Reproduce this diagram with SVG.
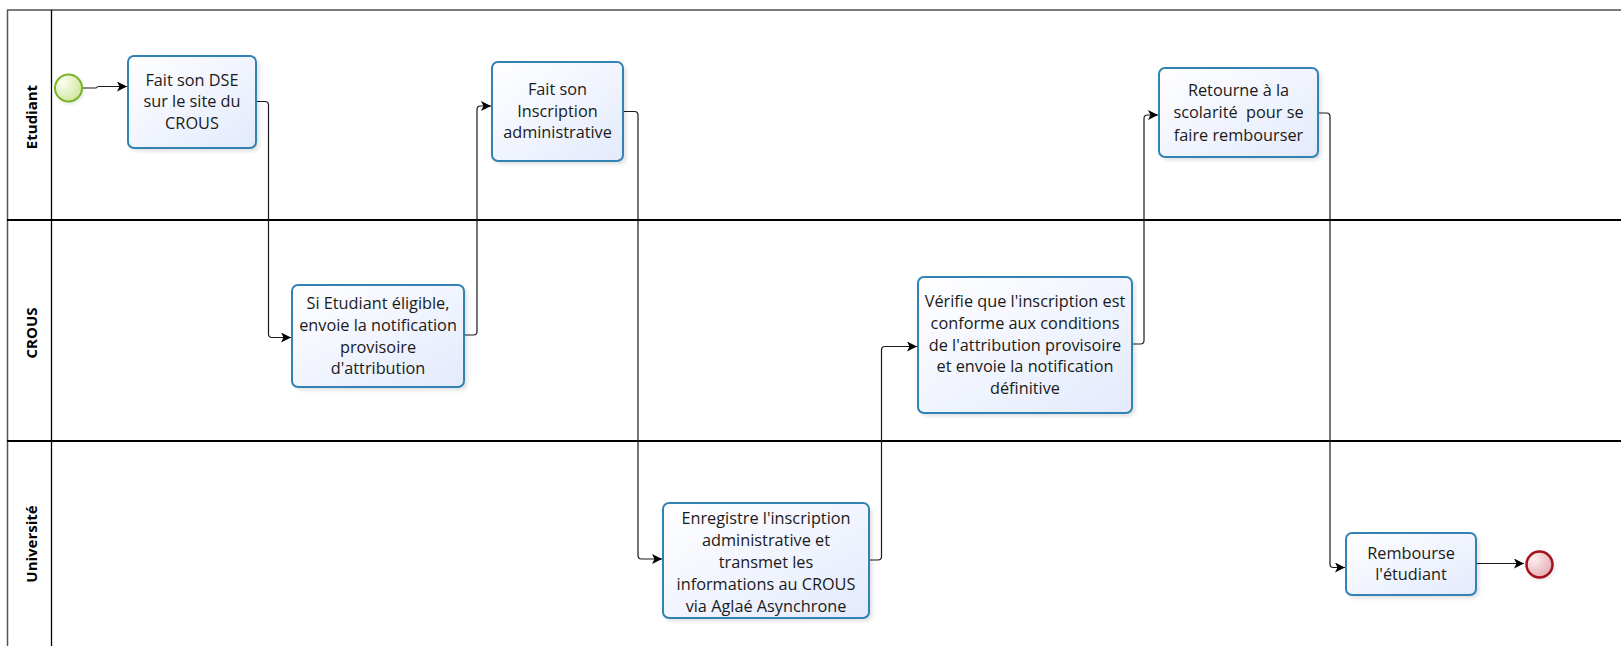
<svg xmlns="http://www.w3.org/2000/svg" width="1621" height="646" viewBox="0 0 1621 646">
<style>
.task rect.b{fill:url(#tg);stroke:#3282b4;stroke-width:2}
.task rect.s{fill:#000;opacity:0.13;filter:url(#blur)}
.task text{font-family:"Open Sans","Noto Sans","Liberation Sans",sans-serif;font-size:16.3px;fill:#1a1a1a;text-anchor:middle;white-space:pre}
.lane text{font-family:"Open Sans","Liberation Sans",sans-serif;font-size:15px;font-weight:bold;fill:#000;text-anchor:middle}
.conn path{fill:none;stroke:#1a1a1a;stroke-width:1.2;stroke-linejoin:round}
</style>
<defs>
<linearGradient id="tg" x1="0" y1="0" x2="1" y2="1">
<stop offset="0" stop-color="#ffffff"/>
<stop offset="1" stop-color="#e3eafc"/>
</linearGradient>
<radialGradient id="sg" cx="0.3" cy="0.3" r="0.8">
<stop offset="0" stop-color="#fbfdf0"/>
<stop offset="1" stop-color="#cfe59a"/>
</radialGradient>
<radialGradient id="eg" cx="0.3" cy="0.3" r="0.8">
<stop offset="0" stop-color="#fcf0f0"/>
<stop offset="1" stop-color="#e6a9b2"/>
</radialGradient>
<filter id="blur" x="-20%" y="-20%" width="140%" height="140%"><feGaussianBlur stdDeviation="2"/></filter>
<marker id="arr" viewBox="0 0 10 10" refX="10" refY="5" markerWidth="10" markerHeight="10" markerUnits="userSpaceOnUse" orient="auto">
<path d="M0,0 L10,5 L0,10 L2.5,5 z" fill="#000"/>
</marker>
</defs>
<rect width="1621" height="646" fill="#fff"/>
<g id="pool">
<line x1="7" y1="10" x2="1621" y2="10" stroke="#7a7a7a" stroke-width="2"/>
<line x1="7.5" y1="10" x2="7.5" y2="646" stroke="#555" stroke-width="1.5"/>
<line x1="51.5" y1="10" x2="51.5" y2="646" stroke="#000" stroke-width="1.3"/>
<line x1="7" y1="220" x2="1621" y2="220" stroke="#000" stroke-width="2"/>
<line x1="7" y1="441" x2="1621" y2="441" stroke="#000" stroke-width="2"/>
</g>
<g id="lane-etudiant" class="lane"><text transform="translate(37,117) rotate(-90)">Etudiant</text></g>
<g id="lane-crous" class="lane"><text transform="translate(37,333) rotate(-90)">CROUS</text></g>
<g id="lane-universite" class="lane"><text transform="translate(37,544) rotate(-90)">Université</text></g>

<g id="connectors" class="conn">
<path d="M83,88 H96 Q97,86.5 99,86.5 H127" marker-end="url(#arr)"/>
<path d="M256,101.5 H265 Q268.5,101.5 268.5,105 V334 Q268.5,337.5 272,337.5 H291" marker-end="url(#arr)"/>
<path d="M464,335 H473.5 Q477,335 477,331.5 V109.5 Q477,106 480.5,106 H491" marker-end="url(#arr)"/>
<path d="M623,111.5 H634.5 Q638,111.5 638,115 V555.5 Q638,559 641.5,559 H662" marker-end="url(#arr)"/>
<path d="M869,560 H878 Q881.5,560 881.5,556.5 V350 Q881.5,346.5 885,346.5 H917" marker-end="url(#arr)"/>
<path d="M1132,344 H1140.5 Q1144,344 1144,340.5 V118.5 Q1144,115 1147.5,115 H1158" marker-end="url(#arr)"/>
<path d="M1319,113 H1326.5 Q1330,113 1330,116.5 V564 Q1330,567.5 1333.5,567.5 H1345" marker-end="url(#arr)"/>
<path d="M1476,563.5 H1524" marker-end="url(#arr)"/>
</g>

<g id="start">
<circle cx="70" cy="90" r="13.5" fill="#000" opacity="0.12" filter="url(#blur)"/>
<circle cx="68.5" cy="88" r="13.5" fill="url(#sg)" stroke="#78b42a" stroke-width="2"/>
</g>

<g id="task1" class="task">
<rect class="s" x="131" y="59" width="128" height="92" rx="6"/>
<rect class="b" x="128" y="56" width="128" height="92" rx="6"/>
<text x="192" y="85.8">Fait son DSE</text>
<text x="192" y="107.3">sur le site du</text>
<text x="192" y="128.8">CROUS</text>
</g>

<g id="task2" class="task">
<rect class="s" x="295" y="288" width="172" height="102" rx="6"/>
<rect class="b" x="292" y="285" width="172" height="102" rx="6"/>
<text x="378" y="308.5">Si Etudiant éligible,</text>
<text x="378" y="330.8">envoie la notification</text>
<text x="378" y="353">provisoire</text>
<text x="378" y="374.3">d'attribution</text>
</g>

<g id="task3" class="task">
<rect class="s" x="495" y="65" width="131" height="99" rx="6"/>
<rect class="b" x="492" y="62" width="131" height="99" rx="6"/>
<text x="557.5" y="95.2">Fait son</text>
<text x="557.5" y="117.4">Inscription</text>
<text x="557.5" y="137.6">administrative</text>
</g>

<g id="task4" class="task">
<rect class="s" x="666" y="506" width="206" height="115" rx="6"/>
<rect class="b" x="663" y="503" width="206" height="115" rx="6"/>
<text x="766" y="524">Enregistre l'inscription</text>
<text x="766" y="545.7">administrative et</text>
<text x="766" y="568">transmet les</text>
<text x="766" y="590">informations au CROUS</text>
<text x="766" y="611.7">via Aglaé Asynchrone</text>
</g>

<g id="task5" class="task">
<rect class="s" x="921" y="280" width="214" height="136" rx="6"/>
<rect class="b" x="918" y="277" width="214" height="136" rx="6"/>
<text x="1025" y="307.4">Vérifie que l'inscription est</text>
<text x="1025" y="329">conforme aux conditions</text>
<text x="1025" y="351.4">de l'attribution provisoire</text>
<text x="1025" y="372.4">et envoie la notification</text>
<text x="1025" y="394">définitive</text>
</g>

<g id="task6" class="task">
<rect class="s" x="1162" y="71" width="159" height="89" rx="6"/>
<rect class="b" x="1159" y="68" width="159" height="89" rx="6"/>
<text x="1238.5" y="95.7">Retourne à la</text>
<text x="1238.5" y="118.4">scolarité  pour se</text>
<text x="1238.5" y="140.7">faire rembourser</text>
</g>

<g id="task7" class="task">
<rect class="s" x="1349" y="536" width="130" height="62" rx="6"/>
<rect class="b" x="1346" y="533" width="130" height="62" rx="6"/>
<text x="1411" y="559">Rembourse</text>
<text x="1411" y="579.7">l'étudiant</text>
</g>

<g id="end">
<circle cx="1541" cy="566.5" r="13.5" fill="#000" opacity="0.12" filter="url(#blur)"/>
<circle cx="1539.5" cy="564.5" r="13" fill="url(#eg)" stroke="#a3121b" stroke-width="2.5"/>
</g>
</svg>
